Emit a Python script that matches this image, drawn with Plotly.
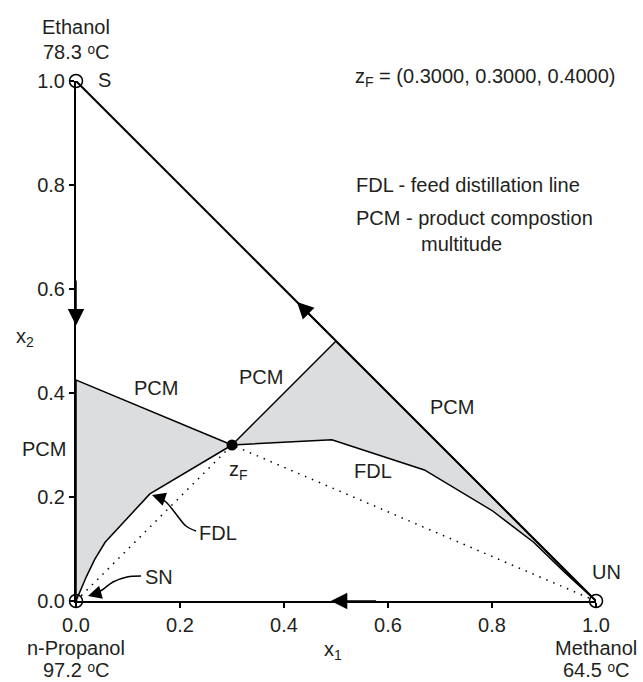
import plotly.graph_objects as go

# ---------------- data ----------------
vert_x1 = [0.0, 0.0, 1.0]          # Ethanol (S), n-Propanol (SN), Methanol (UN)
vert_x2 = [1.0, 0.0, 0.0]
feed_x1 = [0.3]
feed_x2 = [0.3]

fdl_left_x1 = [0.0, 0.008, 0.020, 0.036, 0.056, 0.142, 0.3]
fdl_left_x2 = [0.0, 0.020, 0.047, 0.080, 0.113, 0.206, 0.3]
fdl_right_x1 = [0.3, 0.492, 0.670, 0.800, 0.880, 0.940, 1.0]
fdl_right_x2 = [0.3, 0.310, 0.252, 0.174, 0.113, 0.055, 0.0]
pcm_left_top = (0.0, 0.425)
pcm_right_top = (0.5, 0.5)

tick_vals = [0.0, 0.2, 0.4, 0.6, 0.8, 1.0]
tick_text = ["0.0", "0.2", "0.4", "0.6", "0.8", "1.0"]

# ---------------- layout constants ----------------
W, H = 643, 682
L, T, S = 76, 81, 520             # position of x=0 / y=1, pixels per unit
R = W - L - S
B = H - T - S
FONT = "Liberation Sans, Arial, sans-serif"
TXT = "#231f20"
FS = 20
GRAY = "#dcdddf"


def px(x, y):
    """page pixel position -> data / paper coordinates"""
    return (x - L) / S, (T + S - y) / S


fig = go.Figure()

# left shaded PCM region
lx = fdl_left_x1 + [pcm_left_top[0], fdl_left_x1[0]]
ly = fdl_left_x2 + [pcm_left_top[1], fdl_left_x2[0]]
fig.add_trace(go.Scatter(x=lx, y=ly, mode="lines", fill="toself", fillcolor=GRAY,
                         line=dict(color="black", width=1.5), hoverinfo="skip"))

# right shaded PCM region
rx = [feed_x1[0], pcm_right_top[0]] + fdl_right_x1[::-1]
ry = [feed_x2[0], pcm_right_top[1]] + fdl_right_x2[::-1]
fig.add_trace(go.Scatter(x=rx, y=ry, mode="lines", fill="toself", fillcolor=GRAY,
                         line=dict(color="black", width=1.5), hoverinfo="skip"))

# dotted material balance lines
fig.add_trace(go.Scatter(x=[vert_x1[1], feed_x1[0], vert_x1[2]],
                         y=[vert_x2[1], feed_x2[0], vert_x2[2]], mode="lines",
                         line=dict(color="black", width=1.5, dash="1.5px,6px"),
                         hoverinfo="skip"))

# hypotenuse (Ethanol - Methanol edge)
fig.add_trace(go.Scatter(x=[vert_x1[0], vert_x1[2]], y=[vert_x2[0], vert_x2[2]],
                         mode="lines", line=dict(color="black", width=2),
                         hoverinfo="skip"))

# callout curves (FDL, SN)
c1 = [px(196, 531), px(186, 526), px(176, 514), px(166, 502), px(158, 497)]
c2 = [px(141, 576), px(127, 577), px(113, 582), px(102, 590), px(95, 594)]
for c in (c1, c2):
    fig.add_trace(go.Scatter(x=[p[0] for p in c], y=[p[1] for p in c], mode="lines",
                             line=dict(color="black", width=1.5, shape="spline"),
                             cliponaxis=False, hoverinfo="skip"))

# vertex markers
fig.add_trace(go.Scatter(x=vert_x1, y=vert_x2, mode="markers", cliponaxis=False,
                         marker=dict(symbol="circle-open", size=13, color="black",
                                     line=dict(color="black", width=1.5)),
                         hoverinfo="skip"))
# feed point
fig.add_trace(go.Scatter(x=feed_x1, y=feed_x2, mode="markers", cliponaxis=False,
                         marker=dict(symbol="circle", size=11, color="black"),
                         hoverinfo="skip"))

ann = []


def text(x, y, t, xanchor="center", yanchor="middle"):
    dx, dy = px(x, y)
    ann.append(dict(x=dx, y=dy, xref="paper", yref="paper", text=t, showarrow=False,
                    xanchor=xanchor, yanchor=yanchor, borderpad=0,
                    font=dict(family=FONT, size=FS, color=TXT)))


def arrow(tip, tail, size=2.2):
    ann.append(dict(x=tip[0], y=tip[1], ax=tail[0], ay=tail[1], xref="x", yref="y",
                    axref="x", ayref="y", text=" ", showarrow=True, arrowhead=2,
                    arrowsize=size, arrowwidth=1.5, arrowcolor="black", standoff=0,
                    font=dict(size=1)))


# direction arrows on the triangle edges
arrow((0.0, 0.53), (0.0, 0.62))
arrow((0.425, 0.575), (0.485, 0.515))
arrow((0.49, 0.0), (0.58, 0.0))
# callout arrowheads
arrow(px(152, 495), c1[-1], size=1.8)
arrow(px(88, 596), c2[-1], size=1.8)

text(76, 27, "Ethanol")
text(76, 52, "78.3 \u1d52C")
text(104, 80, "S")
text(76, 648, "n-Propanol")
text(76, 682, "97.2 \u1d52C", yanchor="bottom")
text(596, 648, "Methanol")
text(596, 682, "64.5 \u1d52C", yanchor="bottom")
text(606, 572, "UN")
text(159, 577, "SN")
text(218, 533, "FDL")
text(373, 471, "FDL")
text(156, 388, "PCM")
text(261, 377, "PCM")
text(44, 449, "PCM")
text(452, 407, "PCM")
text(238, 470, "z<sub>F</sub>")
text(354, 77, "z<sub>F</sub> = (0.3000, 0.3000, 0.4000)", "left")
text(355, 185, "FDL - feed distillation line", "left")
text(355, 218, "PCM - product compostion", "left")
text(420, 244, "multitude", "left")
text(333, 650, "x<sub>1</sub>")
text(25, 337, "x<sub>2</sub>")

axis_common = dict(range=[0, 1], tickvals=tick_vals, ticktext=tick_text,
                   ticks="outside", ticklen=5, tickwidth=1.5, tickcolor="black",
                   showline=True, linewidth=2, linecolor="black", mirror=False,
                   showgrid=False, zeroline=False, layer="above traces",
                   tickfont=dict(family=FONT, size=FS, color=TXT))

fig.update_layout(
    width=W, height=H,
    margin=dict(l=L, r=R, t=T, b=B, pad=0),
    paper_bgcolor="white", plot_bgcolor="white",
    showlegend=False,
    xaxis=dict(**axis_common),
    yaxis=dict(**axis_common),
    annotations=ann,
)

fig.write_html("out.html",
               config={"displayModeBar": False},
               post_script="document.body.style.margin='0';"
                           "document.body.style.overflow='hidden';")
